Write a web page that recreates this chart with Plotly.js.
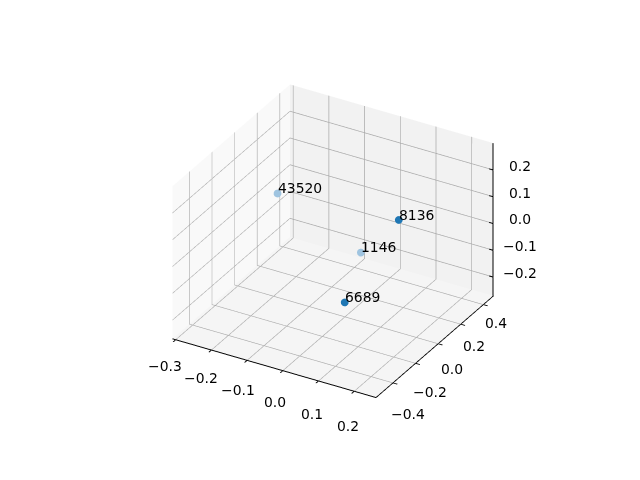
<!DOCTYPE html>
<html><head><meta charset="utf-8">
<script src="https://cdn.plot.ly/plotly-3.0.0.min.js"></script>
<style>html,body{margin:0;padding:0;background:#fff}</style></head>
<body><div id="c" style="width:640px;height:480px"></div>
<script>
const labels = ["43520","8136","1146","6689"];
const xs = [-0.29,0.023,0.193,-0.025];
const ys = [0.319,0.403,-0.47,0.076];
const zs = [-0.037,-0.046,0.2165,-0.253];
const colors = ["#9fc4e0","#1f77b4","#9fc4e0","#1f77b4"];
const xticks = [-0.3,-0.2,-0.1,0,0.1,0.2];
const yticks = [-0.4,-0.2,0,0.2,0.4];
const zticks = [-0.2,-0.1,0,0.1,0.2];
const xr = [-0.309,0.261], yr = [-0.55,0.49], zr = [-0.27,0.3];
const fmt = v => v.toFixed(1).replace('-', '\u2212');
const font = {family: 'DejaVu Sans', size: 13.9, color: '#000'};
const ax = (vals, range, bg, tk) => ({range, tickvals: vals, showticklabels: false,
  backgroundcolor: bg, showbackground: true, gridcolor: '#aaaaaa', gridwidth: 1.5, zeroline: false, showspikes: false,
  title: {text: ''}, ticks: tk ? 'outside' : '', ticklen: 5, tickcolor: '#000', tickwidth: 2, linecolor: '#000', showline: tk, linewidth: 2});
const ann = [];
labels.forEach((t,i) => ann.push({x: xs[i], y: ys[i], z: zs[i], text: t, showarrow: false, xanchor: 'left', yanchor: 'bottom', xshift: -1.5, yshift: -5, font}));
xticks.forEach(v => ann.push({x: v, y: yr[0], z: zr[0], text: fmt(v), showarrow: false, xanchor: 'center', yanchor: 'middle', xshift: -11 + 10*(v+0.3), yshift: -(26 + 18*(v+0.3)), font}));
yticks.forEach(v => ann.push({x: xr[1], y: v, z: zr[0], text: fmt(v), showarrow: false, xanchor: 'center', yanchor: 'middle', xshift: 14 - 3.5*v, yshift: -(25 - 16*v), font}));
zticks.forEach(v => ann.push({x: xr[1], y: yr[1], z: v, text: fmt(v), showarrow: false, xanchor: 'center', yanchor: 'middle', xshift: 27, yshift: 4, font}));
const inset = 0.001;
const zx = [xr[1]-inset, xr[1]-inset], zy = [yr[1]-inset, yr[1]-inset], zz = [zr[0], zr[1]];
const tx = [], ty = [], tz = [];
zticks.forEach(v => { tx.push(xr[1]-0.012, xr[1]-inset, null); ty.push(yr[1]-inset, yr[1]-inset, null); tz.push(v, v, null); });
Plotly.newPlot('c', [
 {type: 'scatter3d', mode: 'markers', x: xs, y: ys, z: zs, marker: {size: 4.5, color: colors, line: {width: 0}}, hoverinfo: 'skip'},
 {type: 'scatter3d', mode: 'lines', x: zx, y: zy, z: zz, line: {color: '#000', width: 2}, hoverinfo: 'skip'},
 {type: 'scatter3d', mode: 'lines', x: tx, y: ty, z: tz, line: {color: '#000', width: 2}, hoverinfo: 'skip'}],
 {width: 640, height: 480, paper_bgcolor: '#fff', showlegend: false, margin: {l: 0, r: 0, t: 0, b: 0},
  scene: {domain: {x: [0.0453, 0.9953], y: [0.008, 0.988]}, aspectmode: 'manual', aspectratio: {x: 1, y: 1, z: 0.75},
   camera: {eye: {x: 0.866, y: -1.5, z: 1}, up: {x: 0, y: 0, z: 1}, center: {x: 0, y: 0, z: 0}, projection: {type: 'orthographic'}},
   xaxis: ax(xticks, xr, '#f9f9f9', true), yaxis: ax(yticks, yr, '#f2f2f2', true), zaxis: ax(zticks, zr, '#f5f5f5', false),
   annotations: ann}},
 {displayModeBar: false});
</script></body></html>
